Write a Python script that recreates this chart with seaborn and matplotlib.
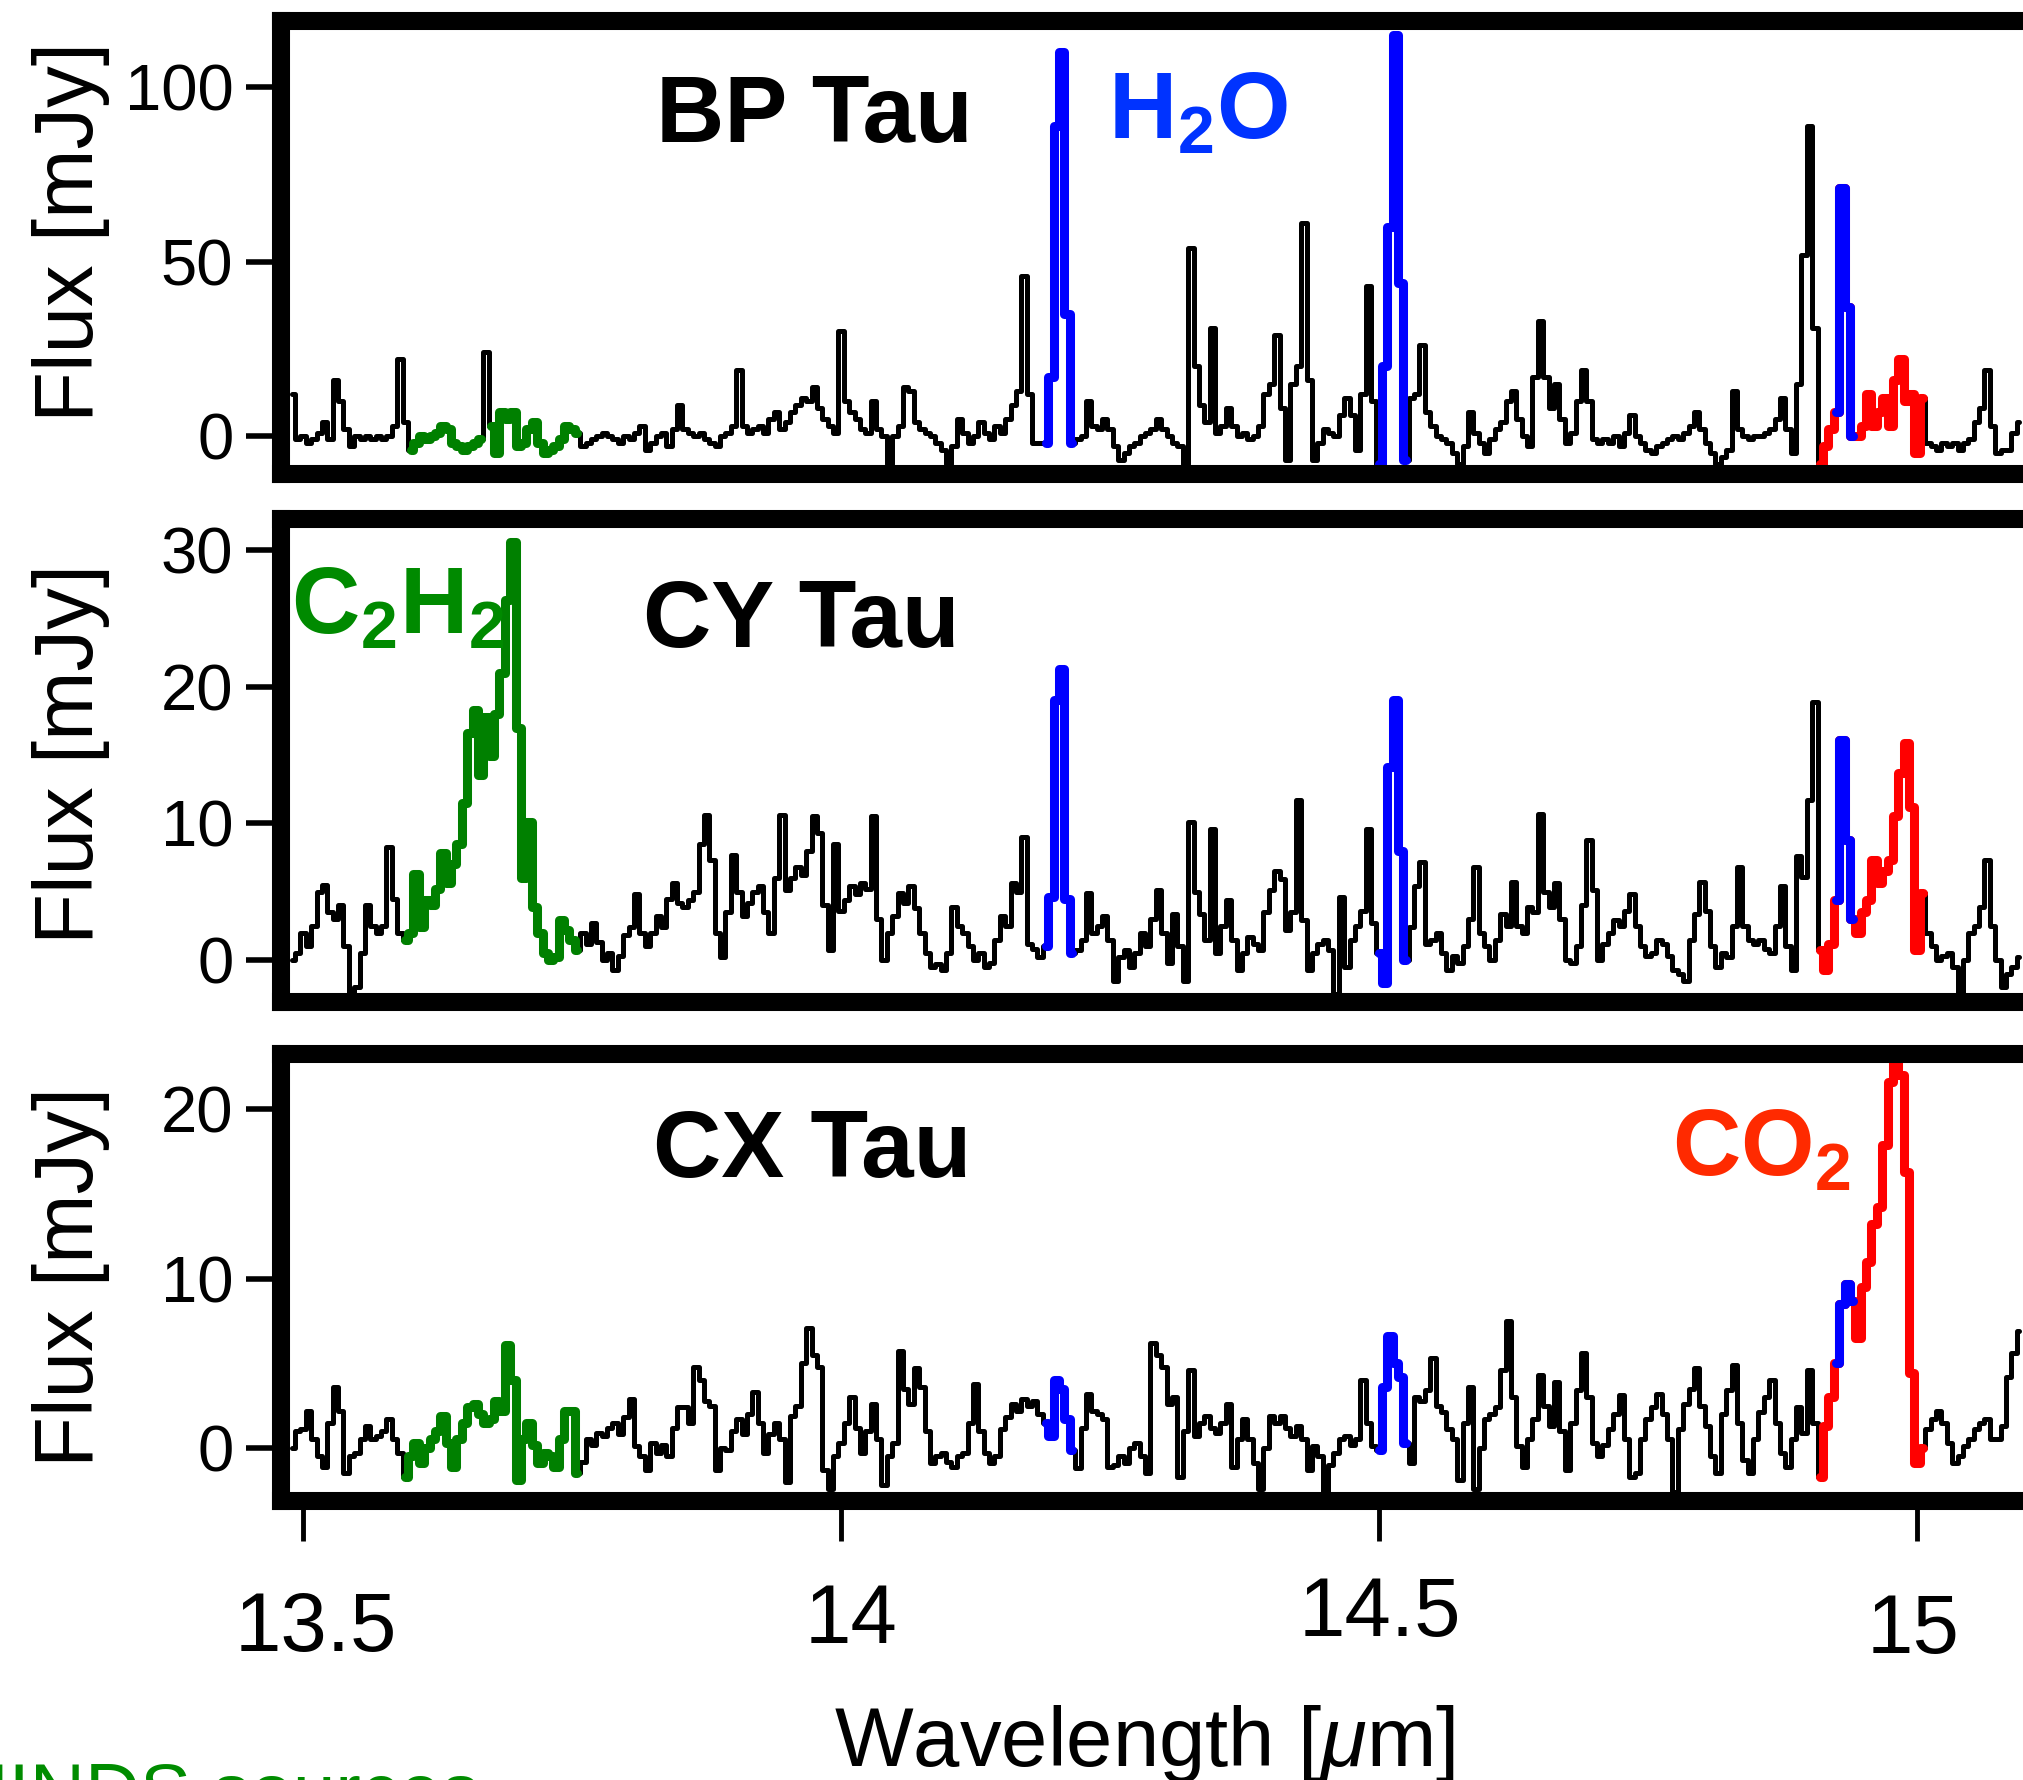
import numpy as np
import matplotlib.pyplot as plt
import seaborn as sns
from matplotlib.transforms import ScaledTranslation

# spectra sampled every 0.005 um starting at 13.490 um (flux in mJy)
wl_start = 13.490
wl_step = 0.005

bp_tau = [
    12, -1, 0, -2, -1, 1, 4, -1, 16, 10,
    2, -3, 0, -1, 0, -1, 0, -1, 0, 3,
    22, 4, -4, -2, 0, -1, 0, 1, 3, 2,
    -2, -3, -4, -3, -2, -1, 24, 3, -5, 7,
    5, 7, -3, -2, 2, 4, -2, -5, -4, -3,
    -1, 3, 2, 1, -3, -2, -1, 0, 1, 0,
    -1, -2, 0, -1, 1, 3, -4, -2, 0, 1,
    -3, 2, 9, 2, 1, 0, 1, -1, -2, -3,
    0, 1, 3, 19, 3, 1, 2, 3, 1, 5,
    7, 2, 4, 7, 9, 11, 10, 14, 8, 5,
    3, 1, 30, 10, 7, 5, 2, 1, 10, 2,
    0, -8, 0, 3, 14, 13, 4, 2, 1, 0,
    -2, -4, -8, -3, 5, 1, -2, 0, 4, 1,
    -1, 3, 1, 5, 9, 13, 46, 12, -2, -2,
    -2, 17, 89, 110, 35, -2, -1, 0, 10, 3,
    2, 5, 2, -3, -7, -5, -3, -2, 0, 1,
    2, 5, 2, 0, -2, -3, -8, 54, 20, 9,
    4, 31, 1, 3, 8, 3, 0, 1, -1, 0,
    3, 12, 15, 29, 8, -7, 15, 20, 61, 16,
    -7, -2, 2, 1, 0, 6, 11, 6, -4, 12,
    43, 10, -8, 20, 60, 115, 44, -7, 11, 12,
    26, 7, 3, 0, -1, -2, -5, -8, -3, 7,
    1, -2, -5, -1, 2, 4, 10, 13, 5, 0,
    -3, 17, 33, 17, 8, 15, 5, -2, 1, 10,
    19, 10, -1, -2, -1, -2, 0, -3, 1, 6,
    0, -2, -4, -5, -3, -2, -1, 0, -1, 1,
    3, 7, 2, -2, -5, -8, -6, -4, 13, 2,
    0, -1, 0, 0, 1, 2, 5, 11, 2, -5,
    15, 52, 89, 31, -8, -3, 2, 7, 71, 37,
    0, 0, 3, 12, 3, 7, 11, 3, 16, 22,
    10, 12, -5, 11, -2, -3, -4, -2, -3, -2,
    -4, -2, -1, 4, 8, 19, 3, -5, -4, -4,
    1, 4,
]

cy_tau = [
    0, 0.5, 2, 1, 2.5, 5, 5.5, 3.5, 3, 4,
    1, -2.5, -2, 0.5, 4, 2.5, 2, 2.5, 8.3, 4.5,
    2, 1.5, 2, 6.3, 2.4, 4.4, 4, 5.2, 7.8, 5.6,
    7, 8.5, 11.5, 16.6, 18.3, 13.5, 17.8, 14.9, 18, 21,
    26.3, 30.6, 17, 6, 10.1, 3.9, 2, 0.5, 0, 0.2,
    2.9, 2.2, 1.5, 0.7, 2, 1.2, 2.7, 1.3, 0, 0.5,
    -0.7, 0.3, 1.8, 2.4, 4.8, 2, 1, 2, 3.2, 2.4,
    4.5, 5.6, 4.2, 3.9, 4.4, 5, 8.5, 10.6, 7.3, 2,
    0.2, 3.5, 7.7, 5, 3.2, 4.2, 5, 5.4, 3.5, 2,
    6, 10.6, 5.1, 6, 6.8, 6.2, 8, 10.5, 9.3, 4,
    0.7, 8.5, 3.6, 4.4, 5.4, 4.8, 5.6, 5.2, 10.5, 3,
    0, 2, 3.2, 4.9, 4.2, 5.4, 3.8, 2, 0.5, -0.5,
    -0.3, -0.7, 0.5, 3.9, 2.5, 2, 1, 0, 0.5, -0.5,
    -0.2, 1.5, 3.2, 2.5, 5.6, 5, 9, 1.2, 0.8, 0.2,
    1, 4.6, 19, 21.3, 4.5, 0.5, 0.7, 1.5, 4.9, 2,
    2.5, 3.2, 1.5, -1.5, 0.2, 0.7, -0.5, 0.5, 2, 1,
    3, 5.1, 2, -0.2, 3.4, 1, -1.5, 10.1, 5, 3.4,
    1.5, 9.6, 0.5, 2.5, 4.4, 1.5, -0.7, 0.5, 1.7, 1.2,
    0.7, 3.5, 5.1, 6.5, 5.9, 2.2, 3.5, 11.7, 2.9, -0.7,
    0.5, 1.2, 1.5, 0.7, -2.5, 4.6, -0.5, 1.5, 2.5, 3.6,
    9.6, 2.7, 0.5, -1.7, 14.1, 19, 8, 0, 2.4, 5.4,
    7.2, 1.2, 1.5, 2, 0.5, -0.7, 0.3, -0.2, 1, 3,
    6.8, 2, 1, 0, 1.5, 3.4, 2.5, 5.7, 2.5, 2,
    3.9, 3.5, 10.7, 5, 3.9, 5.6, 3, 0, -0.2, 1,
    4, 8.8, 5.1, 0, 1.2, 2, 2.9, 2.5, 3.6, 4.8,
    2.5, 1, 0.3, 0.5, 1.5, 1.2, 0.3, -0.7, -1, -1.5,
    1.5, 3.4, 5.7, 3.6, 1, -0.5, 0.5, 0.2, 2.5, 6.8,
    2.5, 1.5, 1.2, 1.5, 0.8, 0.5, 2.5, 5.4, 1, -0.7,
    7.6, 6.1, 11.7, 18.9, 0.7, -0.7, 1.2, 4.4, 16.1, 8.8,
    3, 2, 3.5, 4.4, 7.3, 5.6, 6.5, 7.3, 10.5, 13.7,
    15.9, 11.2, 0.7, 4.9, 2, 1, 0, 0.3, 0.5, -0.5,
    -2.4, 0, 2, 2.5, 3.9, 7.3, 2.5, 0, -2, -1,
    -0.5, 0.2,
]

cx_tau = [
    0, 1, 1.1, 2.2, 0.5, -0.5, -1.1, 1.5, 3.6, 2.2,
    -1.5, -0.5, -0.3, 0.5, 1.3, 0.5, 0.7, 1, 1.7, 0.5,
    -0.3, -1.7, -0.5, 0.3, -0.9, 0, 0.5, 1, 1.9, 0.3,
    -1.1, 0.5, 1.5, 2.4, 2.6, 2, 1.5, 1.7, 2.8, 2.2,
    6.1, 4, -1.9, 0.5, 1.5, 0.2, -0.9, -0.3, -0.5, -1.1,
    0.5, 2.2, 2.2, -1.5, -0.8, 0.5, 0.2, 0.9, 0.7, 1.2,
    1.5, 0.8, 1.8, 2.9, 0.1, -0.5, -1.3, 0.3, -0.3, 0.2,
    -0.5, 1.2, 2.4, 2.4, 1.5, 4.8, 4, 2.8, 2.5, -1.3,
    0, -0.1, 1, 1.7, 0.8, 2, 3.3, 1.5, -0.3, 0.8,
    1.5, 0.5, -2, 1.9, 2.5, 5, 7.1, 5.5, 4.8, -1.3,
    -2.4, -0.5, 0.3, 1.5, 3, 1.2, -0.3, 1, 2.6, 0.5,
    -2.2, -0.5, 0.3, 5.7, 3.5, 2.6, 4.7, 3.6, 1, -0.9,
    -0.5, -0.3, -0.8, -1.1, -0.5, -0.3, 1.5, 3.8, 1, -0.3,
    -0.9, -0.5, 1.1, 1.8, 2.6, 2.2, 2.9, 2.5, 2.8, 2,
    1.5, 0.7, 4, 3.5, 1.7, -0.1, -1.2, 1.2, 3.2, 2.2,
    2, 1.7, -1.1, -1, -0.5, -0.9, 0, 0.3, -0.5, -1.5,
    6.2, 5.5, 4.8, 2.6, 3, -1.7, 1, 4.6, 0.7, 1.5,
    1.9, 1.2, 0.9, 1.5, 2.6, -1.1, 0.5, 1.7, 0.5, -0.9,
    -2.4, 0, 1.9, 1.5, 1.9, 1.2, 0.7, 1.3, 0.5, -1.3,
    0.1, -0.5, -2.6, -1, -0.3, 0.5, 0.7, 0.2, 0.5, 4,
    1.5, 0.1, -0.1, 3.6, 6.6, 5, 4.2, 0.3, -0.9, 3,
    2.8, 3.4, 5.3, 2.5, 2.1, 1.1, 0.5, -1.9, 1.5, 3.6,
    -2.4, 0, 1.7, 2, 2.4, 4.6, 7.5, 3, 0.1, -1.1,
    0.5, 1.7, 4.3, 2.5, 1.3, 3.9, 1, -1.3, 1.5, 3.4,
    5.6, 3, 0.3, -0.5, 0.2, 1.1, 2, 3.1, 0.5, -1.7,
    -1.5, 0.5, 1.7, 2.4, 3.2, 2, 0.5, -2.6, 1.1, 2.6,
    3.5, 4.7, 2.5, 1.3, -0.5, -1.5, 2, 3.4, 4.9, 1.5,
    -0.7, -1.5, 0.5, 2.1, 3, 4, 1.5, -0.3, -1.1, 0.5,
    2.4, 0.9, 4.6, 1.5, -1.7, 1.3, 3, 5, 8.5, 9.7,
    8.7, 6.5, 9.5, 11, 13.2, 14.2, 17.9, 21.6, 23.5, 22,
    16.3, 4.4, -0.9, 0, 1.1, 1.7, 2.2, 1.5, 0.3, -0.9,
    -0.5, 0.1, 0.5, 1.1, 1.5, 1.7, 0.5, 0.5, 1.3, 4.2,
    5.6, 6.9,
]

sources = ['BP Tau', 'CY Tau', 'CX Tau']
spectra = [bp_tau, cy_tau, cx_tau]
ylims = [(-10.9, 119.0), (-3.07, 32.26), (-3.10, 23.25)]
yticks = [[0, 50, 100], [0, 10, 20, 30], [0, 10, 20]]

# highlighted molecular features (wavelength ranges in um)
c2h2_ranges = [[(13.600, 13.665), (13.675, 13.755)],
               [(13.595, 13.755)],
               [(13.595, 13.755)]]
co2_ranges = [(14.910, 15.005)]
h2o_ranges = [(14.190, 14.215), (14.500, 14.525), (14.925, 14.940)]

xticks = [13.5, 14, 14.5, 15]
xticklabels = ['13.5', '14', '14.5', '15']

sns.set_style('white')
plt.rcParams['font.family'] = ['Liberation Sans', 'DejaVu Sans']
plt.rcParams['text.color'] = 'black'
plt.rcParams['axes.labelcolor'] = 'black'
plt.rcParams['xtick.color'] = 'black'
plt.rcParams['ytick.color'] = 'black'
plt.rcParams['mathtext.fontset'] = 'custom'
plt.rcParams['mathtext.rm'] = 'Liberation Sans'
plt.rcParams['mathtext.it'] = 'Liberation Sans:italic'
plt.rcParams['mathtext.bf'] = 'Liberation Sans:bold'

W, H = 2023, 1780
fig = plt.figure(figsize=(W / 100, H / 100), dpi=100)
fig.patch.set_facecolor('white')

# axes boxes in pixels: (left, top, right, bottom) at spine centres
boxes = [(280.5, 21, 2028, 474), (280.5, 519, 2028, 1002), (280.5, 1054, 2028, 1500.5)]
label_y = [0.534, 0.513, 0.5]
name_pos = [(0.3053, 0.7336), (0.2981, 0.7356), (0.3041, 0.7252)]

col_black = 'black'
col_green = '#008000'
col_blue = '#0000ff'
col_red = '#ff0000'


def draw_piece(ax, wl, flux, lo, hi, color, lw):
    m = (wl >= lo - 1e-9) & (wl <= hi + 1e-9)
    sns.lineplot(x=wl[m], y=flux[m], ax=ax, color=color, linewidth=lw,
                 drawstyle='steps-mid', estimator=None, sort=False, legend=False,
                 solid_joinstyle='round', solid_capstyle='round')


axes = []
for k, (name, spec) in enumerate(zip(sources, spectra)):
    l, t, r, b = boxes[k]
    ax = fig.add_axes([l / W, 1 - b / H, (r - l) / W, (b - t) / H])
    axes.append(ax)
    flux = np.array(spec, dtype=float)
    wl = wl_start + wl_step * np.arange(len(flux))

    sns.lineplot(x=wl, y=flux, ax=ax, color=col_black, linewidth=3.6,
                 drawstyle='steps-mid', estimator=None, sort=False, legend=False,
                 solid_joinstyle='round')
    for lo, hi in c2h2_ranges[k]:
        draw_piece(ax, wl, flux, lo, hi, col_green, 6.5)
    for lo, hi in co2_ranges:
        draw_piece(ax, wl, flux, lo, hi, col_red, 6.5)
    for lo, hi in h2o_ranges:
        draw_piece(ax, wl, flux, lo, hi, col_blue, 6.5)

    ax.set_xlim(13.479, 15.103)
    ax.set_ylim(*ylims[k])
    ax.set_yticks(yticks[k])
    ax.set_facecolor('white')
    ax.grid(False)
    for sp in ax.spines.values():
        sp.set_visible(True)
        sp.set_color('black')
        sp.set_linewidth(13)
    ax.tick_params(axis='y', direction='out', length=25, width=4, labelsize=47,
                   pad=9, left=True, right=False, colors='black')
    ax.set_ylabel('Flux [mJy]', fontsize=60, color='black')
    ax.yaxis.set_label_coords(-0.0976, label_y[k])
    ax.set_xlabel('')

    nx, ny = name_pos[k]
    ax.text(nx, ny, name, transform=ax.transAxes, ha='center', va='baseline',
            fontsize=68, fontweight='bold', color='black')

    if k < 2:
        ax.tick_params(axis='x', bottom=False, labelbottom=False)
    else:
        ax.set_xticks(xticks)
        ax.set_xticklabels(xticklabels)
        ax.tick_params(axis='x', direction='out', length=28.5, width=3.5,
                       labelsize=60, pad=36, bottom=True, top=False, colors='black')
        ax.set_xlabel(r'Wavelength [$\mu$m]', fontsize=60, color='black')
        ax.xaxis.set_label_coords(0.4947, -0.4535)

# molecule labels
axes[0].text(0.4733, 0.7417, r'$\mathbf{H_2O}$', transform=axes[0].transAxes,
             ha='left', va='baseline', fontsize=68, color='#0033ff')
axes[1].text(0.006, 0.7633, r'$\mathbf{C_2H_2}$', transform=axes[1].transAxes,
             ha='left', va='baseline', fontsize=68, color='#008a00')
axes[2].text(0.7963, 0.729, r'$\mathbf{CO_2}$', transform=axes[2].transAxes,
             ha='left', va='baseline', fontsize=68, color='#ff2a00')

# the tick labels of the bottom panel sit at slightly uneven heights
offsets_px = [(13, 0), (10, 8), (1, 15), (-4, -2)]
for tick, (dx, dy) in zip(axes[2].xaxis.get_major_ticks(), offsets_px):
    tick.label1.set_transform(tick.label1.get_transform() +
                              ScaledTranslation(dx / 100, dy / 100, fig.dpi_scale_trans))

fig.text(-55 / W, 1 - 1762 / H, 'MINDS sources', ha='left', va='top',
         fontsize=55, color='#008c00')

fig.savefig('out.png', dpi=100)
